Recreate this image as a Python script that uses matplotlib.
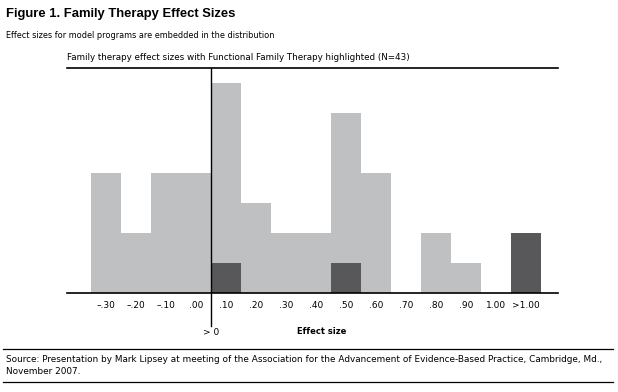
import matplotlib.pyplot as plt
import numpy as np

# data
bins = ["\u2013.30", "\u2013.20", "\u2013.10", ".00", ".10", ".20", ".30", ".40",
        ".50", ".60", ".70", ".80", ".90", "1.00", ">1.00"]
all_counts = [4, 2, 4, 4, 7, 3, 2, 2, 6, 4, 0, 2, 1, 0, 2]
fft_counts = [0, 0, 0, 0, 1, 0, 0, 0, 1, 0, 0, 0, 0, 0, 2]

light = "#bfc0c2"
dark = "#58585a"

plt.rcParams['font.family'] = ['DejaVu Sans']

fig = plt.figure(figsize=(6.18, 3.92), dpi=100)
ax = fig.add_axes([67 / 618, 1 - 293 / 392, 491 / 618, 225 / 392])

x = np.arange(len(bins))
ax.bar(x, all_counts, width=1.0, color=light, linewidth=0)
ax.bar(x, fft_counts, width=1.0, color=dark, linewidth=0)

ax.set_xlim(-1.3, 15.07)
ax.set_ylim(0, 7.5)
for s in ["left", "right"]:
    ax.spines[s].set_visible(False)
ax.spines["top"].set_linewidth(1.2)
ax.spines["bottom"].set_linewidth(1.2)
ax.set_yticks([])
ax.set_xticks(x)
ax.set_xticklabels(bins, fontsize=6.5)
ax.tick_params(axis="x", length=0, pad=6)

# zero line, extending below the tick labels
ax.plot([3.5, 3.5], [7.5, -1.1], color="black", lw=1.0, clip_on=False)
ax.text(3.5, -1.33, "> 0", ha="center", va="center", fontsize=6.5)
ax.text(7.2, -1.3, "Effect size", ha="center", va="center", fontsize=6,
        fontweight="bold")

fig.text(6 / 618, 1 - 14 / 392, "Figure 1. Family Therapy Effect Sizes",
         fontsize=9.4, fontweight="bold", va="center", family="Liberation Sans")
fig.text(6 / 618, 1 - 35 / 392,
         "Effect sizes for model programs are embedded in the distribution",
         fontsize=5.85, va="center")
fig.text(67 / 618, 1 - 57 / 392,
         "Family therapy effect sizes with Functional Family Therapy highlighted (N=43)",
         fontsize=6.35, va="center")

# source block with rules
fig.add_artist(plt.Line2D([3 / 618, 613 / 618], [1 - 349 / 392, 1 - 349 / 392],
                          color="black", lw=0.9))
fig.add_artist(plt.Line2D([3 / 618, 613 / 618], [1 - 382 / 392, 1 - 382 / 392],
                          color="black", lw=0.9))
fig.text(6 / 618, 1 - 359 / 392,
         "Source: Presentation by Mark Lipsey at meeting of the Association for the "
         "Advancement of Evidence-Based Practice, Cambridge, Md.,",
         fontsize=6.4, va="center")
fig.text(6 / 618, 1 - 372 / 392, "November 2007.", fontsize=6.4, va="center")

fig.savefig("out.png", dpi=100)
